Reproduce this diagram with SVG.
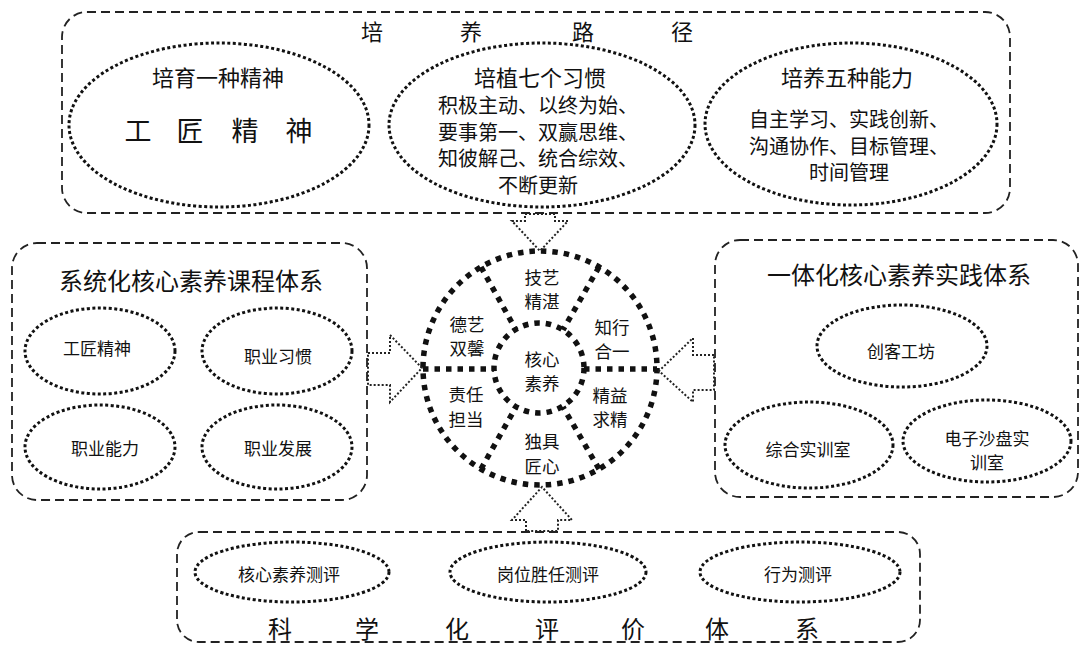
<svg xmlns="http://www.w3.org/2000/svg" width="1081" height="645" viewBox="0 0 1081 645">
<style>
text{font-family:"Noto Sans CJK SC","Noto Sans",sans-serif;fill:#111;text-anchor:middle;dominant-baseline:central}
.box{fill:none;stroke:#222;stroke-width:1.8;stroke-dasharray:9 5}
.ell{fill:none;stroke:#111;stroke-width:3;stroke-dasharray:3 2.5}
.big{fill:none;stroke:#111;stroke-width:5.5;stroke-dasharray:5.5 6}
.arr{fill:none;stroke:#222;stroke-width:2;stroke-dasharray:2 2}
.t20{font-size:20px}.t22{font-size:22px}.t17{font-size:17px}.t18{font-size:17.5px}.t24{font-size:24px}
</style>
<rect width="1081" height="645" fill="#fff"/>

<g id="path-box">
<rect class="box" x="62" y="12" width="948" height="201" rx="25"/>
<text class="t22" x="372" y="30">培</text>
<text class="t22" x="471" y="30">养</text>
<text class="t22" x="583" y="30">路</text>
<text class="t22" x="682" y="30">径</text>
</g>
<g id="spirit">
<ellipse class="ell" cx="219" cy="125" rx="150" ry="82"/>
<text class="t22" x="218" y="76">培育一种精神</text>
<text font-size="27" x="138" y="129">工</text>
<text font-size="27" x="190" y="129">匠</text>
<text font-size="27" x="245" y="129">精</text>
<text font-size="27" x="299" y="129">神</text>
</g>
<g id="habits">
<ellipse class="ell" cx="542" cy="125" rx="153" ry="82"/>
<text class="t22" x="540" y="76">培植七个习惯</text>
<text class="t20" x="538" y="104">积极主动、以终为始、<tspan x="538" dy="26.5">要事第一、双赢思维、</tspan><tspan x="538" dy="26.5">知彼解己、统合综效、</tspan><tspan x="538" dy="26.5">不断更新</tspan></text>
</g>
<g id="abilities">
<ellipse class="ell" cx="851" cy="124" rx="146" ry="81"/>
<text class="t22" x="847" y="76">培养五种能力</text>
<text class="t20" x="849" y="118">自主学习、实践创新、<tspan x="849" dy="26.5">沟通协作、目标管理、</tspan><tspan x="849" dy="26.5">时间管理</tspan></text>
</g>

<g id="course-box">
<rect class="box" x="12" y="243" width="355" height="257" rx="25"/>
<text class="t24" x="191" y="279">系统化核心素养课程体系</text>
</g>
<g id="c1"><ellipse class="ell" cx="100" cy="351" rx="75" ry="43"/><text class="t17" x="97" y="347">工匠精神</text></g>
<g id="c2"><ellipse class="ell" cx="277" cy="351" rx="75" ry="43"/><text class="t17" x="278" y="355">职业习惯</text></g>
<g id="c3"><ellipse class="ell" cx="100" cy="447" rx="75" ry="42"/><text class="t17" x="105" y="447">职业能力</text></g>
<g id="c4"><ellipse class="ell" cx="277" cy="447" rx="75" ry="42"/><text class="t17" x="278" y="447">职业发展</text></g>

<g id="practice-box">
<rect class="box" x="715" y="240" width="363" height="257" rx="25"/>
<text class="t24" x="899" y="273">一体化核心素养实践体系</text>
</g>
<g id="p1"><ellipse class="ell" cx="902" cy="346" rx="85" ry="41"/><text class="t17" x="901" y="350">创客工坊</text></g>
<g id="p2"><ellipse class="ell" cx="809" cy="445" rx="84" ry="43"/><text class="t17" x="808" y="448">综合实训室</text></g>
<g id="p3"><ellipse class="ell" cx="987" cy="441" rx="84" ry="41"/><text class="t17" x="987" y="437">电子沙盘实<tspan x="987" dy="24">训室</tspan></text></g>

<g id="eval-box">
<rect class="box" x="177" y="532" width="743" height="110" rx="22"/>
<text class="t24" x="280" y="627">科</text>
<text class="t24" x="367" y="627">学</text>
<text class="t24" x="457" y="627">化</text>
<text class="t24" x="547" y="627">评</text>
<text class="t24" x="633" y="627">价</text>
<text class="t24" x="717" y="627">体</text>
<text class="t24" x="807" y="627">系</text>
</g>
<g id="e1"><ellipse class="ell" cx="292" cy="572" rx="97" ry="30"/><text class="t17" x="289" y="573">核心素养测评</text></g>
<g id="e2"><ellipse class="ell" cx="548" cy="572" rx="98" ry="30"/><text class="t17" x="548" y="573">岗位胜任测评</text></g>
<g id="e3"><ellipse class="ell" cx="800" cy="572" rx="100" ry="30"/><text class="t17" x="798" y="573">行为测评</text></g>

<g id="core">
<circle class="big" cx="540" cy="368" r="117"/>
<circle class="big" cx="539" cy="368" r="45"/>
<line class="big" x1="423" y1="369" x2="494" y2="369"/>
<line class="big" x1="584" y1="369" x2="657" y2="369"/>
<line class="big" x1="481" y1="267" x2="516" y2="330"/>
<line class="big" x1="599" y1="267" x2="563" y2="330"/>
<line class="big" x1="481" y1="469" x2="516" y2="407"/>
<line class="big" x1="599" y1="469" x2="563" y2="407"/>
<text class="t18" x="542" y="276">技艺<tspan x="542" dy="24">精湛</tspan></text>
<text class="t18" x="467" y="323">德艺<tspan x="467" dy="24">双馨</tspan></text>
<text class="t18" x="612" y="326">知行<tspan x="612" dy="24">合一</tspan></text>
<text class="t18" x="542" y="358">核心<tspan x="542" dy="24">素养</tspan></text>
<text class="t18" x="466" y="393">责任<tspan x="466" dy="25">担当</tspan></text>
<text class="t18" x="610" y="394">精益<tspan x="610" dy="24">求精</tspan></text>
<text class="t18" x="542" y="440">独具<tspan x="542" dy="25">匠心</tspan></text>
</g>

<g id="connectors">
<polygon class="arr" points="525,214 555,214 555,221 568,221 540,251 512,221 525,221"/>
<polygon class="arr" points="368,353 390,353 390,335 422,368 390,402 390,385 368,385"/>
<polygon class="arr" points="714,355 693,355 693,338 659,371 693,402 693,390 714,390"/>
<polygon class="arr" points="526,531 526,520 512,520 542,487 572,520 558,520 558,531"/>
</g>
</svg>
